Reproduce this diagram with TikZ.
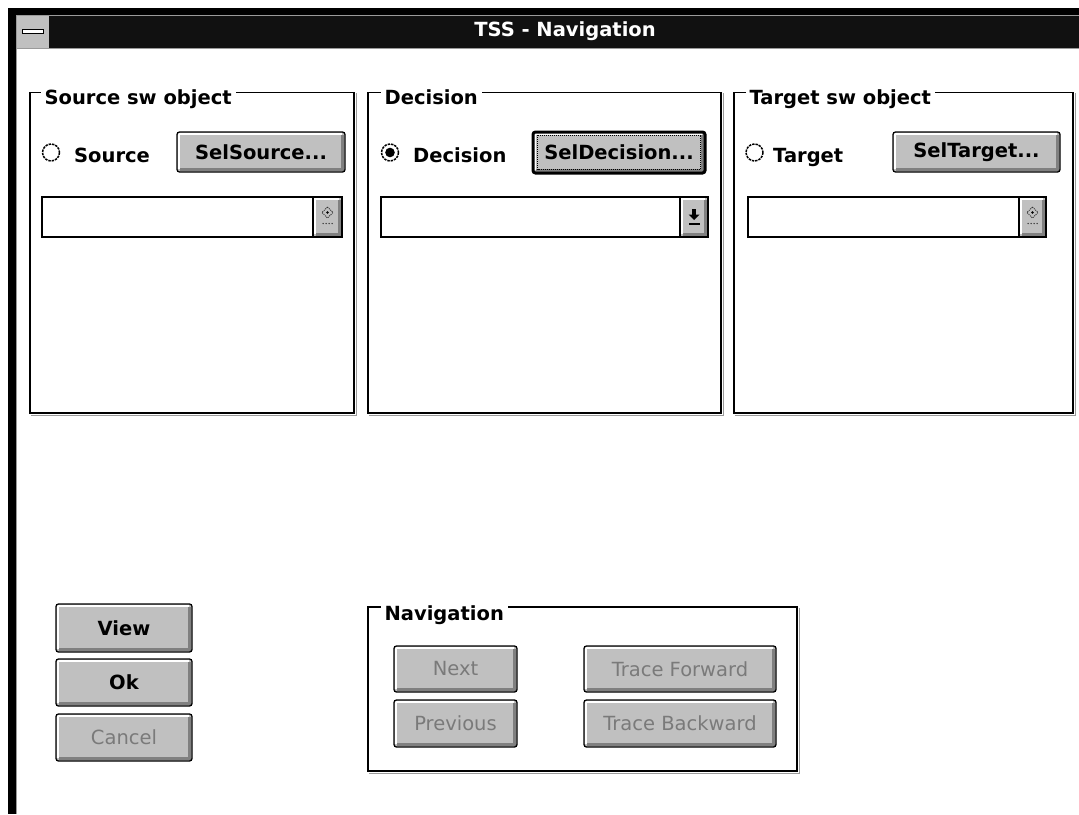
\documentclass[tikz,border=0pt]{standalone}
\usepackage{fontspec}
\setmainfont{DejaVu Sans}
\usetikzlibrary{calc}
\definecolor{btnface}{HTML}{C0C0C0}
\definecolor{btnshadow}{HTML}{808080}
\definecolor{framegray}{HTML}{9A9A9A}
\definecolor{disgray}{HTML}{7A7A7A}
\definecolor{titlebk}{HTML}{111111}
\begin{document}
\begin{tikzpicture}[x=1pt,y=-1pt,
  ui/.style={font=\fontsize{19.5}{23}\selectfont\bfseries},
  bevel/.style={path picture={
      \draw[white, line width=1.6pt, sharp corners]
        ([xshift=2pt,yshift=3pt]path picture bounding box.south west)
        |- ([xshift=-3pt,yshift=-2pt]path picture bounding box.north east);
      \draw[btnshadow, line width=2.6pt, sharp corners]
        ([xshift=3pt,yshift=2.3pt]path picture bounding box.south west)
        -| ([xshift=-2.3pt,yshift=-3pt]path picture bounding box.north east);
  }},
  winbtn/.style={ui, draw=black, line width=1.3pt, fill=btnface,
    rounded corners=2.5pt, inner sep=0pt, bevel},
  defbtn/.style={winbtn, line width=3pt},
  disabled/.style={text=disgray, font=\fontsize{19.5}{23}\selectfont},
  combo/.style={draw=black, line width=1.2pt, fill=white, inner sep=0pt},
  dropbtn/.style={draw=black, line width=1.2pt, fill=btnface, inner sep=0pt, bevel},
  radio/.style={circle, minimum size=17pt, inner sep=0pt},
  radioring/.style={draw=black, line width=1.5pt, dash pattern=on 2.4pt off 1pt},
  radiolabel/.style={ui, inner sep=0pt, anchor=base west},
  grp/.style={draw=black, line width=1.2pt, inner sep=0pt},
  grplabel/.style={ui, fill=white, inner xsep=4pt, inner ysep=1pt, anchor=base west},
  etch/.style={draw=framegray, line width=1.2pt}
]
\useasboundingbox (0,0) rectangle (1079,814);
\fill[white] (0,0) rectangle (1079,814);

% window frame and caption bar
\fill[black] (8,8) rectangle (1079,16);
\fill[black] (8,8) rectangle (16,814);
\draw[framegray, line width=1pt] (16.5,814) -- (16.5,15.5) -- (1079,15.5);
\fill[titlebk] (17,16) rectangle (1079,48);
\draw[framegray, line width=1pt] (17,48.5) -- (1079,48.5);
\node[fill=btnface, minimum width=32pt, minimum height=32pt, inner sep=0pt] (sysmenu) at (33,32) {};
\draw[black, fill=white, line width=1pt] ($(sysmenu.center)+(-10.5,-3)$) rectangle ($(sysmenu.center)+(10.5,1.5)$);
\node[ui, text=white] (title) at (565,31) {TSS - Navigation};

% group boxes
\node[grp, minimum width=324pt, minimum height=320.5pt] (gsrc) at (192,252.75) {};
\node[grp, minimum width=353pt, minimum height=320.5pt] (gdec) at (544.5,252.75) {};
\node[grp, minimum width=339pt, minimum height=320.5pt] (gtgt) at (903.5,252.75) {};
\node[grp, minimum width=429pt, minimum height=164pt] (gnav) at (582.5,689) {};
\foreach \g in {gsrc,gdec,gtgt,gnav}{
  \draw[etch] ($(\g.south west)+(1.5,1.5)$) -| ($(\g.north east)+(1.5,1.5)$);
}
\node[grplabel] (lsrc) at ($(gsrc.north west)+(11,13)$) {Source sw object};
\node[grplabel] (ldec) at ($(gdec.north west)+(13,13)$) {Decision};
\node[grplabel] (ltgt) at ($(gtgt.north west)+(12,13)$) {Target sw object};
\node[grplabel] (lnav) at ($(gnav.north west)+(13,14)$) {Navigation};

% radio buttons
\node[radio] (rsrc) at (51,152.5) {};
\node[radio] (rdec) at (390,152.5) {};
\node[radio] (rtgt) at (754.5,152.5) {};
\foreach \r in {rsrc,rdec,rtgt}
  \draw[radioring] (\r.center) circle (8.5);
\fill[black] (rdec.center) circle (4.8);
\node[radiolabel] (tsrc) at (74,162) {Source};
\node[radiolabel] (tdec) at (413,162) {Decision};
\node[radiolabel] (ttgt) at (773,162) {Target};

% selection buttons
\node[winbtn, minimum width=168pt, minimum height=40pt] (bsrc) at (261,152) {SelSource...};
\node[defbtn, minimum width=172pt, minimum height=41pt] (bdec) at (619,152.5) {SelDecision...};
\draw[black, line width=0.8pt, dash pattern=on 1pt off 1pt]
  ($(bdec.north west)+(6,4.5)$) rectangle ($(bdec.south east)+(-6,-5)$);
\node[winbtn, minimum width=167pt, minimum height=40pt] (btgt) at (976.5,152) {SelTarget...};

% combo boxes
\node[combo, minimum width=300pt, minimum height=40pt] (csrc) at (192,217) {};
\node[dropbtn, minimum width=29pt, minimum height=40pt] (dsrc) at (327.5,217) {};
\node[combo, minimum width=327pt, minimum height=40pt] (cdec) at (544.5,217) {};
\node[dropbtn, minimum width=28pt, minimum height=40pt] (ddec) at (694,217) {};
\node[combo, minimum width=298pt, minimum height=40pt] (ctgt) at (897,217) {};
\node[dropbtn, minimum width=27pt, minimum height=40pt] (dtgt) at (1032.5,217) {};

% inactive drop-down glyphs
\foreach \d in {dsrc,dtgt}{
  \draw[black!80, line width=0.9pt, dash pattern=on 1pt off 1pt]
    ($(\d.center)+(0,-10)$) -- ($(\d.center)+(5.5,-4.5)$) -- ($(\d.center)+(0,1)$)
    -- ($(\d.center)+(-5.5,-4.5)$) -- cycle;
  \fill[black] ($(\d.center)+(0,-4.5)$) circle (1.4);
  \foreach \k in {-4.5,-1.5,1.5,4.5}
    \fill[black!80] ($(\d.center)+(\k,6.5)$) circle (0.75);
}
% active drop-down arrow
\fill[black] ($(ddec.center)+(-1.6,-8)$) rectangle ($(ddec.center)+(1.6,-2)$);
\fill[black] ($(ddec.center)+(-5.5,-2.5)$) -- ($(ddec.center)+(5.5,-2.5)$) -- ($(ddec.center)+(0,3)$) -- cycle;
\fill[black] ($(ddec.center)+(-5.5,5.5)$) rectangle ($(ddec.center)+(5.5,7.5)$);

% dialog buttons
\node[winbtn, minimum width=136pt, minimum height=48pt] (bview) at (124,628) {View};
\node[winbtn, minimum width=136pt, minimum height=47pt] (bok) at (124,682.5) {Ok};
\node[winbtn, disabled, minimum width=136pt, minimum height=47pt] (bcancel) at (124,737.5) {Cancel};

% navigation buttons
\node[winbtn, disabled, minimum width=123pt, minimum height=46pt] (bnext) at (455.5,669) {Next};
\node[winbtn, disabled, minimum width=123pt, minimum height=47pt] (bprev) at (455.5,723.5) {Previous};
\node[winbtn, disabled, minimum width=192pt, minimum height=46pt] (bfwd) at (680,669) {Trace Forward};
\node[winbtn, disabled, minimum width=192pt, minimum height=47pt] (bbwd) at (680,723.5) {Trace Backward};
\end{tikzpicture}
\end{document}
